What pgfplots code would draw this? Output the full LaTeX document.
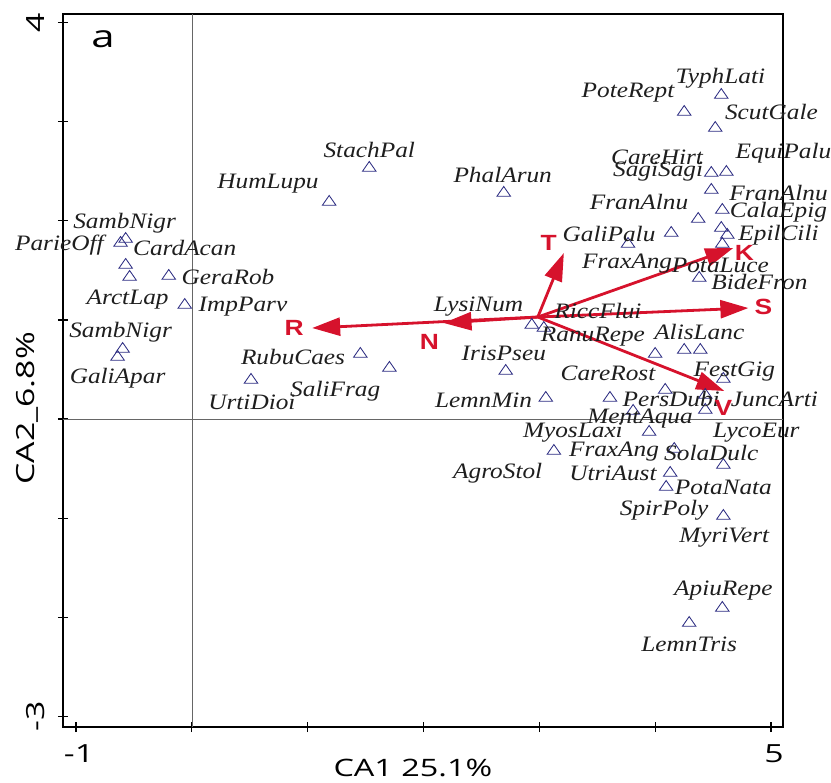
\documentclass[border=0pt]{standalone}
\usepackage{fontspec}
\setmainfont{Liberation Serif}[FakeStretch=1.15]
\newfontfamily\tickfont{Open Sans}[FakeStretch=1.35]
\newfontfamily\vecfont{Liberation Sans}[FakeStretch=1.2]
\usepackage{pgfplots}
\usepackage{pgfplotstable}
\pgfplotsset{compat=1.18}
\usetikzlibrary{arrows.meta}

\definecolor{vecred}{RGB}{214,18,44}
\definecolor{spblue}{RGB}{45,45,130}
\definecolor{labtext}{RGB}{30,30,30}

\pgfplotsset{vec/.style={vecred, solid, no markers, line width=2.8pt,
    -{Triangle[length=28pt, width=18pt]}}}

% species scores (triangles)
\pgfplotstableread{
x y
-0.615 1.776
-0.571 1.816
-0.571 1.554
-0.537 1.433
-0.199 1.443
-0.061 1.150
-0.597 0.706
-0.641 0.626
1.186 2.190
1.532 2.533
1.455 0.656
1.706 0.515
0.511 0.394
2.693 2.281
2.935 0.949
3.039 0.918
2.710 0.484
3.056 0.212
3.126 -0.323
3.610 0.212
3.810 0.081
3.948 -0.131
4.087 0.293
4.000 0.656
4.251 0.696
4.390 0.696
4.589 0.404
4.433 0.242
4.433 0.091
4.165 -0.303
4.589 -0.464
4.130 -0.545
4.095 -0.686
4.589 -0.979
4.580 -1.907
4.294 -2.059
4.571 3.269
4.251 3.098
4.519 2.936
4.485 2.482
4.615 2.492
4.485 2.311
4.580 2.109
4.372 2.018
4.139 1.877
3.766 1.766
4.571 1.927
4.623 1.857
4.580 1.766
4.381 1.423
}\species

% species names, placed where they sit in the figure
\pgfplotstableread{
x y lab
-0.580 1.978 SambNigr
-1.143 1.756 ParieOff
-0.061 1.726 CardAcan
0.312 1.433 GeraRob
-0.554 1.201 ArctLap
0.442 1.130 ImpParv
-0.615 0.878 SambNigr
-0.641 0.414 GaliApar
0.658 2.371 HumLupu
1.532 2.714 StachPal
0.874 0.626 RubuCaes
1.238 0.283 SaliFrag
0.519 0.172 UrtiDioi
2.684 2.462 PhalArun
4.563 3.441 TyphLati
3.766 3.290 PoteRept
5.004 3.098 ScutGale
4.017 2.644 CareHirt
4.026 2.492 SagiSagi
5.108 2.684 EquiPalu
5.065 2.281 FranAlnu
3.861 2.190 FranAlnu
5.065 2.089 CalaEpig
3.602 1.867 GaliPalu
5.065 1.857 EpilCili
3.758 1.564 FraxAng
4.563 1.554 PotaLuce
4.900 1.382 BideFron
2.476 1.130 LysiNum
3.506 1.090 RiccFlui
3.463 0.827 RanuRepe
4.381 0.878 AlisLanc
2.693 0.666 IrisPseu
3.593 0.464 CareRost
4.684 0.474 FestGig
2.519 0.192 LemnMin
4.139 0.202 PersDubi
5.030 0.202 JuncArti
3.870 0.000 MentAqua
3.290 -0.141 MyosLaxi
4.874 -0.141 LycoEur
3.645 -0.333 FraxAng
4.485 -0.343 SolaDulc
2.641 -0.545 AgroStol
3.636 -0.545 UtriAust
4.589 -0.686 PotaNata
4.078 -0.918 SpirPoly
4.597 -1.201 MyriVert
4.589 -1.736 ApiuRepe
4.294 -2.270 LemnTris
}\labels

% environmental vector labels
\pgfplotstableread{
x y lab
0.883 0.918 R
2.052 0.777 N
3.082 1.776 T
4.771 1.675 K
4.935 1.130 S
4.589 0.111 V
}\veclabels

\begin{document}
\begin{tikzpicture}
\begin{axis}[
    scale only axis,
    width=720pt, height=713pt,
    xmin=-1.112, xmax=5.104,
    ymin=-3.108, ymax=4.087,
    clip=false,
    axis line style={line width=1.8pt},
    xtick={-1,0,1,2,3,4,5}, xticklabels={-1,,,,,,5},
    ytick={-3,-2,-1,0,1,2,3,4}, yticklabels={-3,,,,,,,4},
    xtick pos=bottom, ytick pos=left,
    tick align=center, major tick length=10pt,
    tick style={line width=1.2pt, black},
    tick label style={font=\tickfont\fontsize{25}{25}\selectfont},
    xticklabel style={yshift=-9pt, xshift=3pt},
    yticklabel style={rotate=90, anchor=south, inner ysep=13pt},
    xlabel={CA1\ 25.1\%}, ylabel={CA2\_6.8\%},
    xlabel style={font=\tickfont\fontsize{24}{24}\selectfont,
        at={(axis description cs:0.486,-0.0575)}, anchor=center},
    ylabel style={font=\tickfont\fontsize{25}{25}\selectfont,
        at={(axis description cs:-0.049,0.447)}, anchor=center},
]
\addplot[gray!80!black, line width=0.6pt, no markers] coordinates {(0,-3.108) (0,4.087)};
\addplot[gray!80!black, line width=0.6pt, no markers] coordinates {(-1.112,0) (5.104,0)};

\addplot[only marks, mark=triangle, mark size=6.5pt, spblue,
    mark options={xscale=1.2, line width=0.85pt}] table[x=x, y=y] {\species};

\addplot[only marks, mark=none, nodes near coords, point meta=explicit symbolic,
    nodes near coords style={anchor=center, inner sep=0pt, text=labtext,
        font=\itshape\fontsize{22}{22}\selectfont}]
    table[x=x, y=y, meta=lab] {\labels};

% vectors from the common origin
\addplot[vec] coordinates {(2.987,1.029) (1.039,0.918)};
\addplot[vec] coordinates {(2.987,1.029) (2.173,0.969)};
\addplot[vec] coordinates {(2.987,1.029) (3.212,1.675)};
\addplot[vec] coordinates {(2.987,1.029) (4.675,1.726)};
\addplot[vec] coordinates {(2.987,1.029) (4.805,1.120)};
\addplot[vec] coordinates {(2.987,1.029) (4.597,0.283)};

\addplot[only marks, mark=none, nodes near coords, point meta=explicit symbolic,
    nodes near coords style={anchor=center, inner sep=0pt, text=vecred,
        font=\vecfont\bfseries\fontsize{22}{22}\selectfont}]
    table[x=x, y=y, meta=lab] {\veclabels};

\node[font=\tickfont\fontsize{31}{31}\selectfont] at (axis cs:-0.767,3.83) {a};
\end{axis}
\pgfresetboundingbox
\path[use as bounding box] ([shift={(-63pt,-55pt)}]current axis.south west)
    rectangle ([shift={(48pt,14pt)}]current axis.north east);
\end{tikzpicture}
\end{document}
